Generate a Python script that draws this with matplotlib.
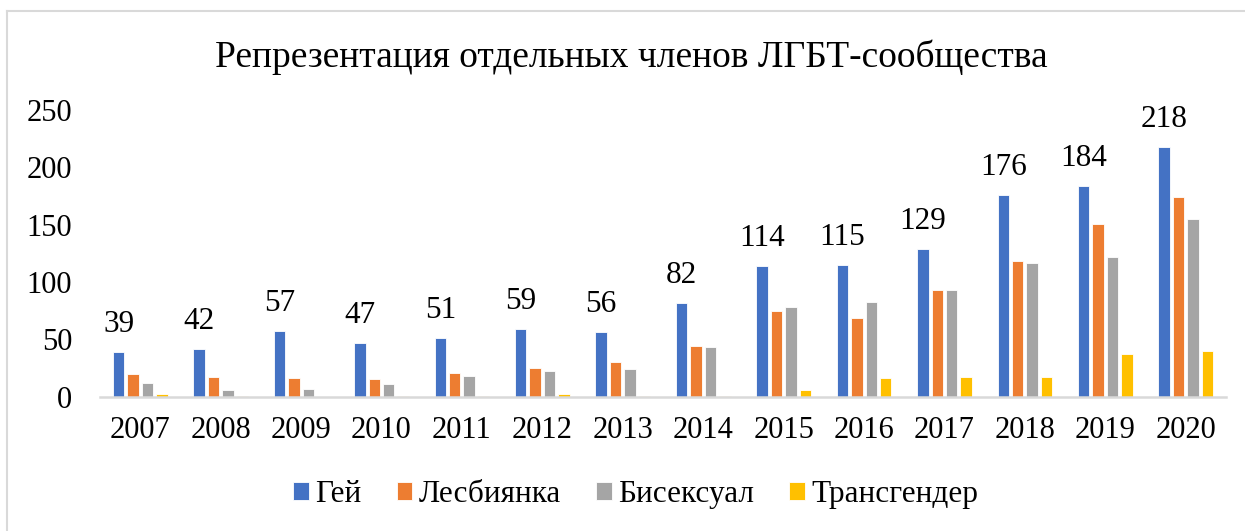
import matplotlib
matplotlib.use('agg')
import matplotlib.pyplot as plt
from matplotlib.lines import Line2D
import numpy as np

years = ['2007', '2008', '2009', '2010', '2011', '2012', '2013',
         '2014', '2015', '2016', '2017', '2018', '2019', '2020']
gay = [39, 42, 57, 47, 51, 59, 56, 82, 114, 115, 129, 176, 184, 218]
lesbian = [20, 17, 16, 15, 21, 25, 30, 44, 75, 69, 93, 118, 151, 174]
bisexual = [12, 6, 7, 11, 18, 22, 24, 43, 78, 83, 93, 117, 122, 155]
transgender = [2, 0.3, 0, 0.3, 0.3, 2, 1, 0.3, 6, 16, 17, 17, 37, 40]

series = [('Гей', gay, '#4472c4'),
          ('Лесбиянка', lesbian, '#ed7d31'),
          ('Бисексуал', bisexual, '#a5a5a5'),
          ('Трансгендер', transgender, '#ffc000')]

plt.rcParams['font.family'] = ['Liberation Serif', 'DejaVu Serif']

W, H = 1245, 531
fig = plt.figure(figsize=(W/100, H/100), dpi=100)
ax = fig.add_axes([100/W, 1-396.7/H, 1126/W, (396.7-110)/H])

x = np.arange(len(years))
slot = 0.179
bw = 0.142
for i, (name, vals, col) in enumerate(series):
    ax.bar(x + (i-1.5)*slot, vals, width=bw, color=col, label=name,
           edgecolor='white', linewidth=0.6)

for xi, v in zip(x, gay):
    ax.annotate(str(v), (xi - 1.5*slot, v), xytext=(0, 14.4),
                textcoords='offset points', ha='center', va='baseline',
                fontsize=22.5)

ax.set_xlim(-0.5, len(years)-0.5)
ax.set_ylim(0, 250)
ax.set_yticks(range(0, 251, 50))
ax.set_xticks(x)
ax.set_xticklabels(years)
ax.tick_params(axis='both', length=0, labelsize=22)
ax.tick_params(axis='y', pad=20)
ax.tick_params(axis='x', pad=14)
for s in ['top', 'right', 'left']:
    ax.spines[s].set_visible(False)
ax.spines['bottom'].set_color('#d9d9d9')
ax.spines['bottom'].set_linewidth(1.8)

fig.text(631/W, 1-66.7/H, 'Репрезентация отдельных членов ЛГБТ-сообщества',
         ha='center', va='baseline', fontsize=27)

fig.legend(loc='center', bbox_to_anchor=(636/W, 1-494.7/H), ncol=4,
           frameon=False, fontsize=22.5, handlelength=0.5, handleheight=0.5,
           handletextpad=0.21, columnspacing=1.12)

# light frame round the chart
fig.add_artist(Line2D([7/W, 7/W], [0, 1-11/H], color='#d9d9d9', lw=1.5))
fig.add_artist(Line2D([7/W, 1], [1-11/H, 1-11/H], color='#d9d9d9', lw=1.5))

plt.savefig('out.png', dpi=100)
